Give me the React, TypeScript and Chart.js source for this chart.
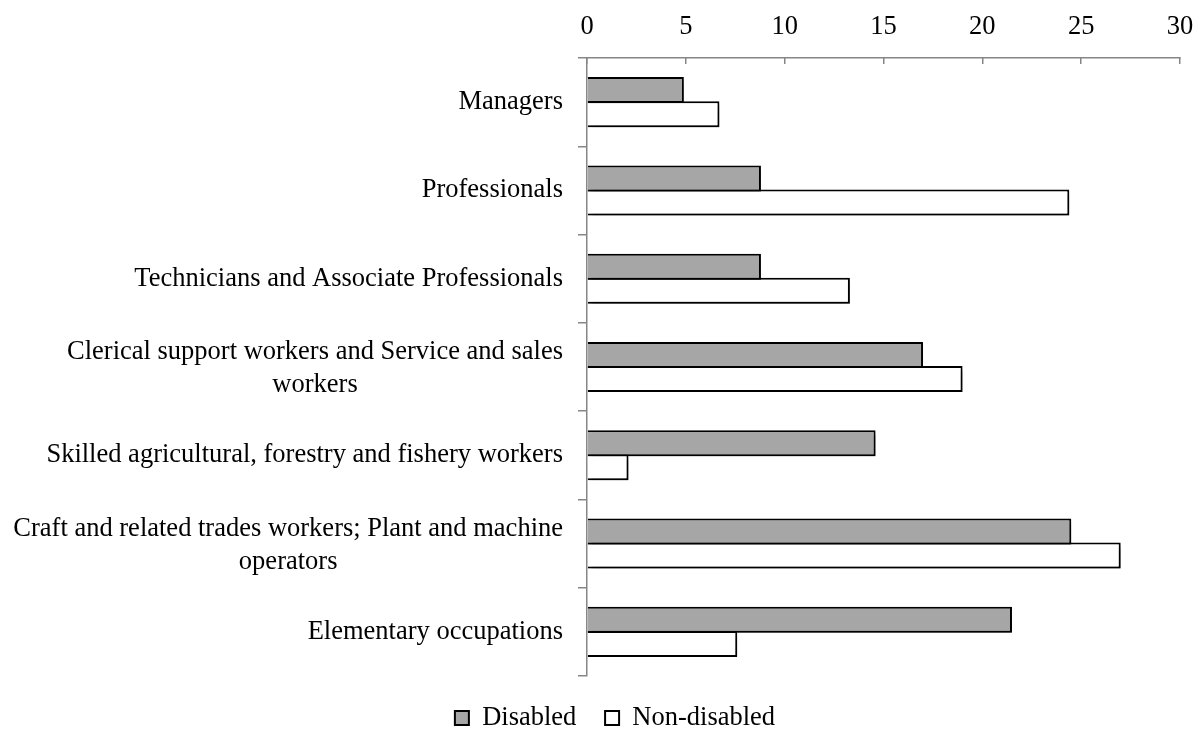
import React, { useEffect, useRef } from "react";
import { Chart, registerables } from "chart.js";

Chart.register(...registerables);

const categories: string[][] = [
  ["Managers"],
  ["Professionals"],
  ["Technicians and Associate Professionals"],
  ["Clerical support workers and Service and sales", "workers"],
  ["Skilled agricultural, forestry and fishery workers"],
  ["Craft and related trades workers; Plant and machine", "operators"],
  ["Elementary occupations"],
];
const disabled = [4.9, 8.8, 8.8, 17.0, 14.6, 24.5, 21.5];
const nonDisabled = [6.7, 24.4, 13.3, 19.0, 2.1, 27.0, 7.6];
const seriesNames = ["Disabled", "Non-disabled"];
const xTicks = [0, 5, 10, 15, 20, 25, 30];

const FONT_FAMILY = '"Liberation Serif", "Times New Roman", serif';
const FONT_SIZE = 26.5;
const AXIS_COLOR = "#868686";

const shadowPlugin = {
  id: "barShadow",
  beforeDatasetsDraw(chart: any) {
    const ctx = chart.ctx;
    ctx.save();
    ctx.shadowColor = "rgba(0,0,0,0.45)";
    ctx.shadowBlur = 5;
    ctx.shadowOffsetX = 2;
    ctx.shadowOffsetY = 4;
  },
  afterDatasetsDraw(chart: any) {
    chart.ctx.restore();
  },
};

const categoryLabelPlugin = {
  id: "categoryLabels",
  afterDraw(chart: any) {
    const ctx = chart.ctx;
    const yScale = chart.scales.y;
    const right = chart.chartArea.left - 24;
    const lineH = 33;
    ctx.save();
    ctx.font = `${FONT_SIZE}px ${FONT_FAMILY}`;
    ctx.fillStyle = "#000";
    ctx.textAlign = "center";
    ctx.textBaseline = "middle";
    (chart.data.labels as string[][]).forEach((lines, i) => {
      const yc = yScale.getPixelForValue(i) + (lines.length > 1 ? 2 : 0);
      const maxW = Math.max(...lines.map((l) => ctx.measureText(l).width));
      const cx = right - maxW / 2;
      const y0 = yc - ((lines.length - 1) * lineH) / 2;
      lines.forEach((l, j) => ctx.fillText(l, cx, y0 + j * lineH));
    });
    ctx.restore();
  },
};

export default function App() {
  const canvasRef = useRef<HTMLCanvasElement | null>(null);

  useEffect(() => {
    if (!canvasRef.current) return;
    const padLeft = 42;
    const chart = new Chart(canvasRef.current, {
      type: "bar",
      data: {
        labels: categories as any,
        datasets: [
          {
            label: seriesNames[0],
            data: disabled,
            backgroundColor: "#a6a6a6",
            borderColor: "#000000",
            borderWidth: 2,
            barPercentage: 1.08,
            categoryPercentage: 0.545,
          },
          {
            label: seriesNames[1],
            data: nonDisabled,
            backgroundColor: "#ffffff",
            borderColor: "#000000",
            borderWidth: 2,
            barPercentage: 1.08,
            categoryPercentage: 0.545,
          },
        ],
      },
      options: {
        indexAxis: "y",
        animation: false,
        responsive: true,
        maintainAspectRatio: false,
        layout: { padding: { left: padLeft, right: 14, top: 0, bottom: -11.25 } },
        scales: {
          x: {
            position: "top",
            min: xTicks[0],
            max: xTicks[xTicks.length - 1],
            afterBuildTicks: (scale: any) => {
              scale.ticks = xTicks.map((v) => ({ value: v }));
            },
            afterFit: (scale: any) => {
              scale.height = 50;
              scale.paddingLeft = 0;
              scale.paddingRight = 0;
            },
            ticks: {
              color: "#000",
              font: { family: FONT_FAMILY, size: FONT_SIZE },
              padding: 21,
              maxRotation: 0,
            },
            grid: {
              drawOnChartArea: false,
              tickLength: -6,
              color: AXIS_COLOR,
              lineWidth: 1.5,
            },
            border: { color: AXIS_COLOR, width: 1.5 },
          },
          y: {
            position: "left",
            afterFit: (scale: any) => {
              scale.width = 579 - padLeft;
              scale.paddingTop = 0;
              scale.paddingBottom = 0;
            },
            ticks: { display: false },
            grid: {
              offset: true,
              drawOnChartArea: false,
              tickLength: 9,
              color: AXIS_COLOR,
              lineWidth: 1.5,
            },
            border: { color: AXIS_COLOR, width: 1.5 },
          },
        },
        plugins: {
          legend: {
            position: "bottom",
            labels: {
              color: "#000",
              font: { family: FONT_FAMILY, size: FONT_SIZE },
              boxWidth: 14,
              boxHeight: 14,
              padding: 28.75,
            },
          },
          tooltip: { enabled: false },
        },
      },
      plugins: [shadowPlugin, categoryLabelPlugin],
    });
    return () => chart.destroy();
  }, []);

  return (
    <div style={{ width: 1186, height: 722, position: "relative" }}>
      <canvas ref={canvasRef} />
    </div>
  );
}
